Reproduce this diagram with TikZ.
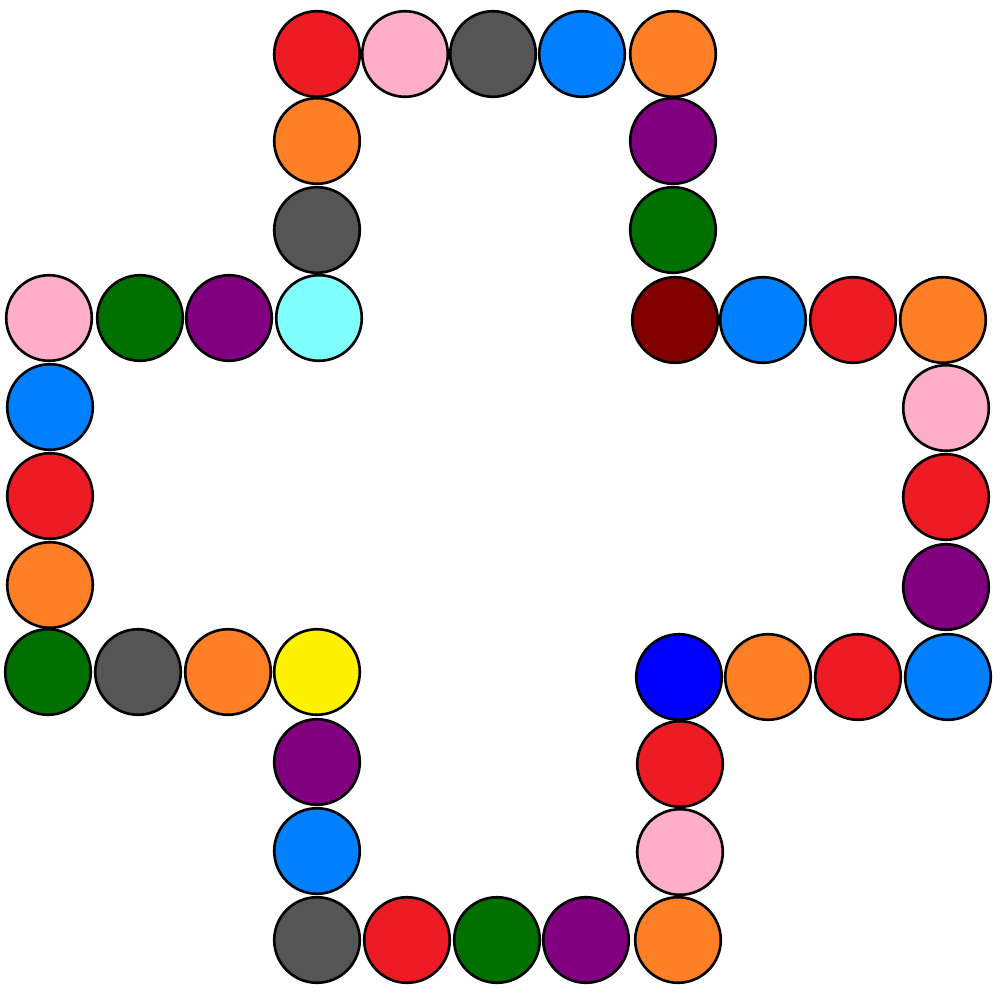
\documentclass[tikz,border=0pt]{standalone}
\usepackage{tikz}
\definecolor{beadred}{RGB}{237,28,36}
\definecolor{beadpink}{RGB}{255,174,201}
\definecolor{beadgray}{RGB}{85,85,85}
\definecolor{beadblue}{RGB}{0,128,255}
\definecolor{beadorange}{RGB}{255,127,39}
\definecolor{beadpurple}{RGB}{128,0,128}
\definecolor{beadgreen}{RGB}{0,112,0}
\definecolor{beadmaroon}{RGB}{128,0,0}
\definecolor{beadcyan}{RGB}{128,255,255}
\definecolor{beadyellow}{RGB}{255,242,0}
\definecolor{beadnavy}{RGB}{0,0,255}

\begin{document}
\begin{tikzpicture}[
  x=0.01cm, y=-0.01cm,
  bead/.style={circle, draw=black, line width=0.75pt, inner sep=0pt,
               minimum size=0.855cm}
]
  \useasboundingbox (0,0) rectangle (1000,1000);
  % ring of beads, clockwise from the top left corner
  \foreach \x/\y/\c [count=\i] in {
      317/54/beadred, 405/54/beadpink, 493/54/beadgray, 582/54/beadblue, 673/54/beadorange,
      673/141/beadpurple, 673/230/beadgreen, 675/320/beadmaroon,
      763/320/beadblue, 853/320/beadred, 943/320/beadorange,
      946/408/beadpink, 946/497/beadred, 946/587/beadpurple, 948/677/beadblue,
      858/677/beadred, 768/677/beadorange, 679/677/beadnavy,
      680/764/beadred, 680/852/beadpink, 678/940/beadorange,
      586/940/beadpurple, 497/940/beadgreen, 407/940/beadred, 317/940/beadgray,
      317/851/beadblue, 317/762/beadpurple, 317/672/beadyellow,
      228/672/beadorange, 138/672/beadgray, 48/672/beadgreen,
      50/585/beadorange, 50/496/beadred, 50/407/beadblue, 49/318/beadpink,
      140/318/beadgreen, 229/318/beadpurple, 319/318/beadcyan,
      317/230/beadgray, 317/141/beadorange}
    \node[bead, fill=\c] (b\i) at (\x,\y) {};
\end{tikzpicture}
\end{document}
